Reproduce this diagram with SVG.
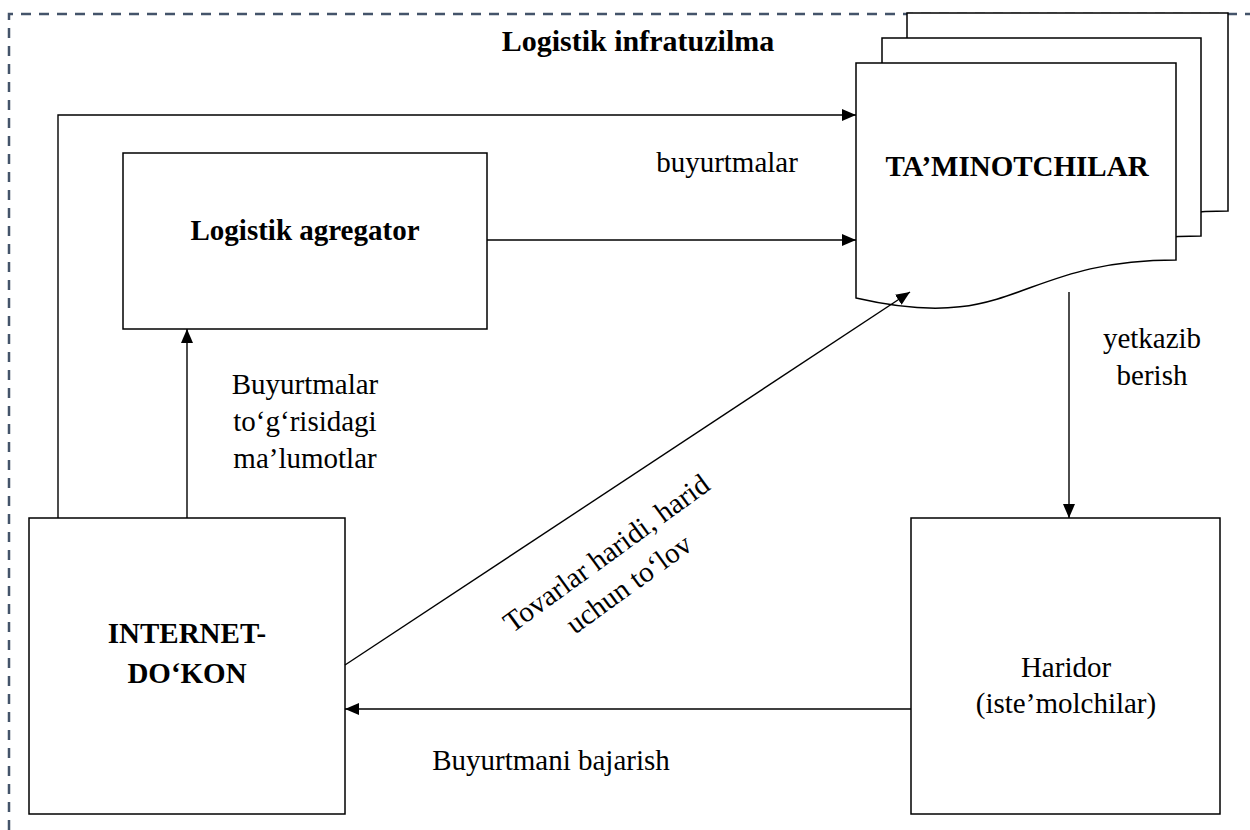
<svg xmlns="http://www.w3.org/2000/svg" width="1250" height="830" viewBox="0 0 1250 830">
<defs>
<style>
.box{fill:#fff;stroke:#000;stroke-width:1.5}
.ln{fill:none;stroke:#000;stroke-width:1.4}
.t{font-family:"Liberation Serif","Times New Roman",serif;font-size:29px;fill:#000;text-anchor:middle}
.b{font-weight:bold}
</style>
<marker id="ah" viewBox="0 0 14 12" refX="14" refY="6" markerWidth="14" markerHeight="12" markerUnits="userSpaceOnUse" orient="auto">
<path d="M0,0 L14,6 L0,12 z" fill="#000"/>
</marker>
</defs>
<rect width="1250" height="830" fill="#fff"/>
<path id="border" d="M9,830 V14 H1250" fill="none" stroke="#44546a" stroke-width="2.5" stroke-dasharray="10 8"/>
<text class="t b" x="638" y="51" style="font-size:30px">Logistik infratuzilma</text>

<g id="taminotchilar">
<path class="box" d="M907,13 H1228 V211 C1068,211 1068,286 907,249 Z"/>
<path class="box" d="M882,38 H1201 V236 C1042,236 1042,311 882,274 Z"/>
<path class="box" d="M856,63 H1176 V260 C1016,260 1016,335 856,298 Z"/>
<text class="t b" x="1017" y="176">TA’MINOTCHILAR</text>
</g>

<g id="agregator">
<rect class="box" x="123" y="153" width="364" height="176"/>
<text class="t b" x="305" y="240">Logistik agregator</text>
</g>

<g id="internet-dokon">
<rect class="box" x="29" y="518" width="316" height="296"/>
<text class="t b" x="187" y="643">INTERNET-</text>
<text class="t b" x="187" y="683">DO‘KON</text>
</g>

<g id="haridor">
<rect class="box" x="911" y="518" width="309" height="296"/>
<text class="t" x="1066" y="677">Haridor</text>
<text class="t" x="1066" y="713">(iste’molchilar)</text>
</g>

<g id="connectors">
<path class="ln" d="M58,518 V115 H856" marker-end="url(#ah)"/>
<path class="ln" d="M487,240 H856" marker-end="url(#ah)"/>
<path class="ln" d="M187,518 V329" marker-end="url(#ah)"/>
<path class="ln" d="M345,665 L910,292" marker-end="url(#ah)"/>
<path class="ln" d="M1069,292 V518" marker-end="url(#ah)"/>
<path class="ln" d="M911,709 H345" marker-end="url(#ah)"/>
</g>

<g id="labels">
<text class="t" x="727" y="172">buyurtmalar</text>
<text class="t" x="305" y="394">Buyurtmalar</text>
<text class="t" x="305" y="431">to‘g‘risidagi</text>
<text class="t" x="305" y="468">ma’lumotlar</text>
<text class="t" x="1152" y="348">yetkazib</text>
<text class="t" x="1152" y="385">berish</text>
<text class="t" x="551" y="770">Buyurtmani bajarish</text>
<g transform="translate(612,561) rotate(-36)">
<text class="t" x="0" y="0">Tovarlar haridi, harid</text>
<text class="t" x="0" y="38">uchun to‘lov</text>
</g>
</g>
</svg>
